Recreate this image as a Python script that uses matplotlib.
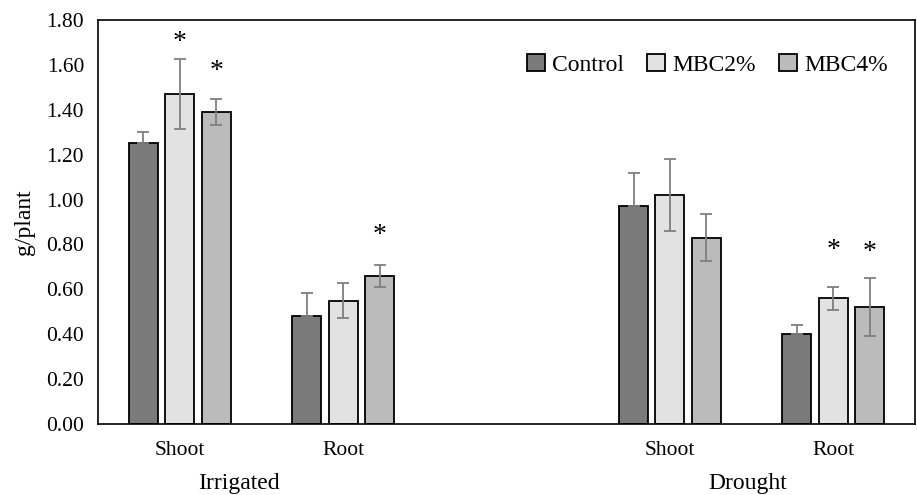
import numpy as np
import matplotlib
matplotlib.use("Agg")
import matplotlib.pyplot as plt

# categories on x axis (middle slot left empty as in the original)
categories = ["Shoot", "Root", "", "Shoot", "Root"]
series = ["Control", "MBC2%", "MBC4%"]

# means (g/plant), NaN for the empty slot
control = [1.25, 0.48, np.nan, 0.97, 0.40]
mbc2 = [1.47, 0.55, np.nan, 1.02, 0.56]
mbc4 = [1.39, 0.66, np.nan, 0.83, 0.52]

# standard errors
control_err = [0.05, 0.105, 0, 0.15, 0.04]
mbc2_err = [0.155, 0.077, 0, 0.16, 0.05]
mbc4_err = [0.06, 0.05, 0, 0.104, 0.13]

# control only shows the upper error bar
lower_shown = [False, True, True]

# significance stars: (category index, series index, y position)
stars = [(0, 1, 1.70), (0, 2, 1.57), (1, 2, 0.84), (4, 1, 0.775), (4, 2, 0.762)]

colors = ["#7a7a7a", "#e2e2e2", "#bbbbbb"]

plt.rcParams['font.family'] = ['Liberation Serif', 'DejaVu Serif']

fig = plt.figure(figsize=(9.17, 4.95), dpi=100)
ax = fig.add_axes([0.1069, 0.1434, 0.891, 0.8162])

x = np.arange(len(categories))
width = 0.177
step = 0.223
data = [control, mbc2, mbc4]
errs = [control_err, mbc2_err, mbc4_err]

for i, (vals, err) in enumerate(zip(data, errs)):
    pos = x + (i - 1) * step
    mask = ~np.isnan(vals)
    v = np.array(vals)[mask]
    e = np.array(err)[mask]
    lo = e if lower_shown[i] else np.zeros_like(e)
    ax.bar(pos[mask], v, width, color=colors[i],
           edgecolor="black", linewidth=1.3, label=series[i], zorder=2)
    ax.errorbar(pos[mask], v, yerr=[lo, e],
                fmt="none", ecolor="#7f7f7f", elinewidth=1.3, capsize=4,
                capthick=1.3, zorder=3)

for ci, si, y in stars:
    ax.text(x[ci] + (si - 1) * step, y, "*", ha="center", va="center",
            fontsize=20)

ax.set_xlim(-0.5, len(categories) - 0.5)
ax.set_ylim(0, 1.8)
ax.set_yticks(np.arange(0, 1.81, 0.2))
ax.set_yticklabels([f"{v:.2f}" for v in np.arange(0, 1.81, 0.2)], fontsize=15.5)
ax.set_xticks(x)
ax.set_xticklabels(categories, fontsize=15.5)
ax.tick_params(axis="y", length=0, pad=10)
ax.tick_params(axis="x", length=0, pad=12)
for s in ax.spines.values():
    s.set_linewidth(1.2)

ax.set_ylabel("g/plant", fontsize=17, labelpad=8)
ax.text(238.5 / 917, 6 / 495, "Irrigated", transform=fig.transFigure,
        ha="center", va="baseline", fontsize=17)
ax.text(748 / 917, 6 / 495, "Drought", transform=fig.transFigure,
        ha="center", va="baseline", fontsize=17)

ax.legend(loc="upper right", bbox_to_anchor=(0.978, 0.94), ncol=3, frameon=False,
          fontsize=17, handlelength=0.75, handleheight=0.75, handletextpad=0.3,
          columnspacing=1.0, borderaxespad=0)

fig.savefig("out.png", dpi=100)
